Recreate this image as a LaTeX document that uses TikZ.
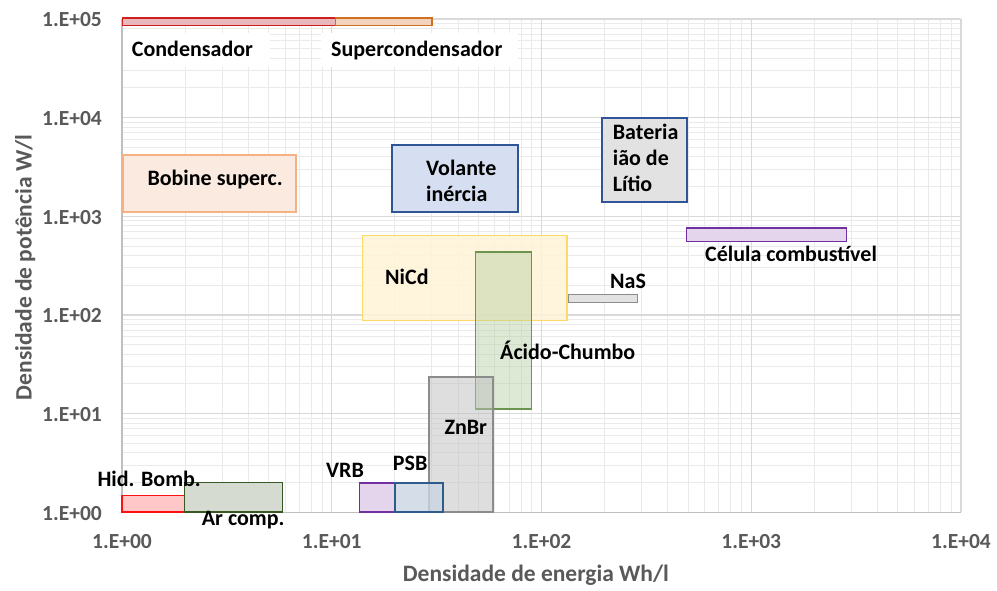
\documentclass[tikz,border=0pt]{standalone}
\usepackage{fontspec}
\setmainfont{Carlito}
\definecolor{tickgray}{HTML}{595959}
\definecolor{majgrid}{HTML}{D9D9D9}
\definecolor{mingrid}{HTML}{EAEAEA}
\definecolor{axisgray}{HTML}{BFBFBF}
\definecolor{condfill}{HTML}{E9B8BD}
\definecolor{conddraw}{HTML}{D01F1F}
\definecolor{supfill}{HTML}{F4D3BE}
\definecolor{supdraw}{HTML}{D0701F}
\definecolor{bobfill}{HTML}{FBEADF}
\definecolor{bobdraw}{HTML}{F4B183}
\definecolor{bluefill}{HTML}{D6DFF1}
\definecolor{bluedraw}{HTML}{2F5597}
\definecolor{grayfill}{HTML}{E2E2E2}
\definecolor{graydraw}{HTML}{8C8C8C}
\definecolor{purpfill}{HTML}{E4D5EC}
\definecolor{purpdraw}{HTML}{7030A0}
\definecolor{yelfill}{HTML}{FFF4D8}
\definecolor{yeldraw}{HTML}{FFD966}
\definecolor{grnfill}{HTML}{B5CFA0}
\definecolor{grndraw}{HTML}{6A9450}
\definecolor{psbfill}{HTML}{CBD5E3}
\definecolor{psbdraw}{HTML}{2E5C8A}
\definecolor{hidfill}{HTML}{FFC7C7}
\definecolor{hiddraw}{HTML}{FF1010}
\definecolor{arfill}{HTML}{D5DBD1}
\definecolor{ardraw}{HTML}{385723}
\tikzset{
  x=1pt, y=-1pt,
  lab/.style={inner sep=0pt, anchor=base west, font=\fontsize{22}{26}\selectfont\bfseries, text=black},
  ticklab/.style={inner sep=0pt, font=\fontsize{21.5}{25}\selectfont\bfseries, text=tickgray},
  axtitle/.style={inner sep=0pt, font=\fontsize{23.5}{28}\selectfont\bfseries, text=tickgray},
  bar/.style={line width=1.3pt},
}
\begin{document}
\begin{tikzpicture}
\useasboundingbox[fill=white] (0,0) rectangle (997,590);
% minor grid
\foreach \d in {0,...,3}{
  \foreach \m in {2,...,9}{
    \draw[mingrid, line width=1pt] ({122+209.75*(\d+log10(\m))},19) -- ({122+209.75*(\d+log10(\m))},512.3);
  }
}
\foreach \d in {0,...,4}{
  \foreach \m in {2,...,9}{
    \draw[mingrid, line width=1pt] (122,{512.3-98.66*(\d+log10(\m))}) -- (961,{512.3-98.66*(\d+log10(\m))});
  }
}
% major grid
\foreach \k in {1,...,4}{
  \draw[majgrid, line width=1.2pt] ({122+209.75*\k},19) -- ({122+209.75*\k},512.3);
}
\foreach \k in {1,...,5}{
  \draw[majgrid, line width=1.2pt] (122,{512.3-98.66*\k}) -- (961,{512.3-98.66*\k});
}
% axes
\draw[axisgray, line width=1.3pt] (122,19) -- (122,512.3) -- (961,512.3);
% tick labels
\foreach \k/\t in {0/1.E+00,1/1.E+01,2/1.E+02,3/1.E+03,4/1.E+04}{
  \node[ticklab, anchor=base] (xt\k) at ({122+209.75*\k},548) {\t};
}
\foreach \k/\t in {0/1.E+00,1/1.E+01,2/1.E+02,3/1.E+03,4/1.E+04,5/1.E+05}{
  \node[ticklab, anchor=east] (yt\k) at (102,{513.3-98.66*\k}) {\t};
}
% axis titles
\node[axtitle, anchor=base west] (xtitle) at (402.7,581.7) {Densidade de energia Wh/l};
\node[axtitle, anchor=base, rotate=90] (ytitle) at (31.7,267.5) {Densidade de potência W/l};
% white label backgrounds
\fill[white] (122.7,32.7) rectangle (270,66.7);
\fill[white] (320.7,32.7) rectangle (518,66.7);
% boxes
\draw[line width=1.5pt, draw=conddraw, fill=condfill] (122.5,17.8) rectangle (335.3,25.3);
\draw[line width=1.5pt, draw=supdraw, fill=supfill] (335.3,17.8) rectangle (432,25.3);
\draw[bar, draw=bobdraw, fill=bobfill] (123,155) rectangle (296,212);
\draw[bar, draw=bluedraw, fill=bluefill] (392,145) rectangle (518,212);
\draw[bar, draw=bluedraw, fill=grayfill] (602,118) rectangle (687,202);
\draw[bar, draw=purpdraw, fill=purpfill] (686.5,228) rectangle (846.7,241.7);
\draw[bar, draw=graydraw, fill=grayfill] (568.7,294.7) rectangle (637.3,302.7);
\draw[bar, draw=yeldraw, fill=yelfill, fill opacity=0.85] (362.7,235.3) rectangle (567,320.7);
\draw[bar, draw=grndraw, fill=grnfill, fill opacity=0.45] (475.7,252) rectangle (531.7,409);
\draw[bar, draw=graydraw, fill=gray!50, fill opacity=0.5] (429,377) rectangle (493,512);
\draw[bar, draw=purpdraw, fill=purpfill] (359.3,483) rectangle (395,512);
\draw[bar, draw=psbdraw, fill=psbfill, fill opacity=0.8] (395,483) rectangle (443,512);
\draw[bar, draw=hiddraw, fill=hidfill] (122,495.7) rectangle (184.3,512);
\draw[bar, draw=ardraw, fill=arfill] (184.3,482.7) rectangle (282.3,512);
% labels
\node[lab] (cond) at (131.7,56.7) {Condensador};
\node[lab] (supc) at (331,56.7) {Supercondensador};
\node[lab] (bob) at (147.3,185.7) {Bobine superc.};
\node[lab] (vol1) at (426,175) {Volante};
\node[lab] (vol2) at (426,201) {inércia};
\node[lab] (bat1) at (612.7,139.3) {Bateria};
\node[lab] (bat2) at (612.7,165) {ião de};
\node[lab] (bat3) at (612.7,191.7) {Lítio};
\node[lab] (cel) at (705,261.7) {Célula combustível};
\node[lab] (nas) at (610,288.7) {NaS};
\node[lab] (nicd) at (385,284) {NiCd};
\node[lab] (acid) at (500,359.3) {Ácido-Chumbo};
\node[lab] (znbr) at (444.3,434) {ZnBr};
\node[lab] (vrb) at (326,477.3) {VRB};
\node[lab] (psb) at (392.7,470) {PSB};
\node[lab] (hid) at (97.3,486.5) {Hid. Bomb.};
\node[lab] (ar) at (201.7,525) {Ar comp.};
\end{tikzpicture}
\end{document}
